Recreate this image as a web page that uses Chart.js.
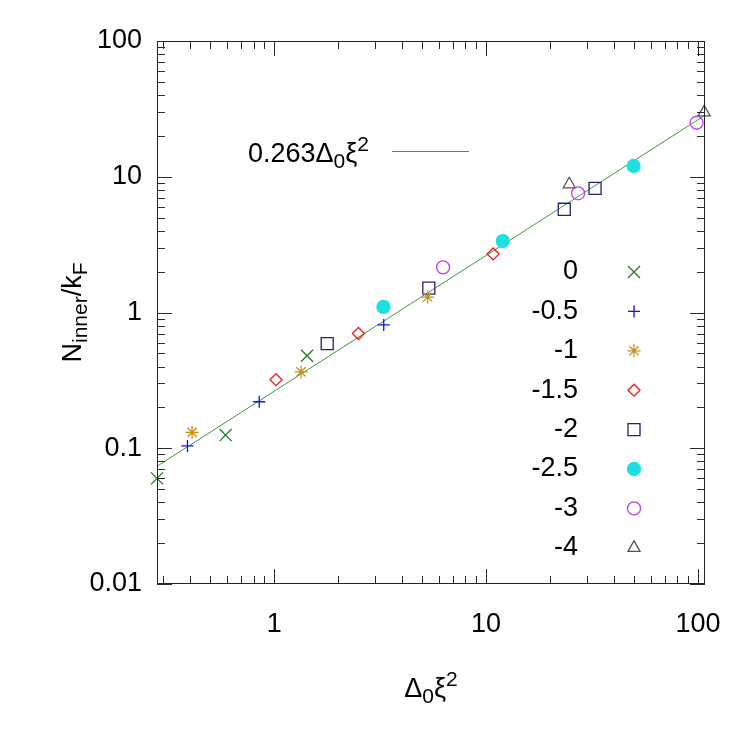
<!DOCTYPE html>
<html>
<head>
<meta charset="utf-8">
<script src="https://cdn.jsdelivr.net/npm/chart.js@4.4.1/dist/chart.umd.min.js"></script>
<style>
  html, body { margin: 0; padding: 0; background: #fff; }
  #wrap { width: 750px; height: 750px; }
</style>
</head>
<body>
<div id="wrap"><canvas id="chart" width="750" height="750"></canvas></div>
<script>
// series names (legend text)
const seriesNames = ["0", "-0.5", "-1", "-1.5", "-2", "-2.5", "-3", "-4"];

// data (x = Delta0 xi^2, y = N_inner / k_F)
const xS0 = [0.28, 0.59, 1.43];
const yS0 = [0.060, 0.125, 0.48];
const xS05 = [0.39, 0.85, 3.29];
const yS05 = [0.104, 0.22, 0.81];
const xS1 = [0.41, 1.34, 5.3];
const yS1 = [0.131, 0.365, 1.30];
const xS15 = [1.02, 2.5, 10.8];
const yS15 = [0.32, 0.70, 2.70];
const xS2 = [1.78, 5.37, 23.4, 32.7];
const yS2 = [0.59, 1.51, 5.76, 8.2];
const xS25 = [3.28, 12.0, 49.7];
const yS25 = [1.10, 3.36, 12.0];
const xS3 = [6.27, 27.2, 98.6];
const yS3 = [2.15, 7.55, 25.0];
const xS4 = [24.7, 107];
const yS4 = [8.8, 29.8];

// fitted line 0.263*Delta0 xi^2, end points
const fitX = [0.28, 108];
const fitY = [0.0736, 28.4];

const xTicks = [1, 10, 100];
const yTicks = [0.01, 0.1, 1, 10, 100];

const seriesX = [xS0, xS05, xS1, xS15, xS2, xS25, xS3, xS4];
const seriesY = [yS0, yS05, yS1, yS15, yS2, yS25, yS3, yS4];

const FONT = "'Liberation Sans', Arial, Helvetica, sans-serif";
const BIG = 27, SMALL = 21;
const styles = [
  { color: "#237a23", shape: "crossRot", r: 8.5, filled: false },
  { color: "#1010f0", shape: "cross", r: 6, filled: false },
  { color: "#c8901e", shape: "star", r: 6.5, filled: false },
  { color: "#f01818", shape: "rectRot", r: 6, filled: false },
  { color: "#22226e", shape: "rect", r: 8.5, filled: false },
  { color: "#1ee0e0", shape: "circle", r: 6.5, filled: true },
  { color: "#b444f0", shape: "circle", r: 6.5, filled: false },
  { color: "#555555", shape: "triangle", r: 7, filled: false },
];
const FIT_COLOR = "#3e963e";

function drawRich(ctx, parts, x, y, align) {
  const fontOf = (p) => (p.sub || p.sup ? SMALL : BIG) + "px " + FONT;
  let total = 0;
  parts.forEach((p) => { ctx.font = fontOf(p); total += ctx.measureText(p.t).width; });
  let cx = align === "center" ? x - total / 2 : x;
  ctx.textAlign = "left";
  ctx.textBaseline = "alphabetic";
  parts.forEach((p) => {
    ctx.font = fontOf(p);
    const dy = p.sub ? 6 : p.sup ? -11 : 0;
    ctx.fillText(p.t, cx, y + dy);
    cx += ctx.measureText(p.t).width;
  });
}

function marker(ctx, st, x, y) {
  ctx.strokeStyle = st.color;
  ctx.fillStyle = st.filled ? st.color : "rgba(0,0,0,0)";
  ctx.lineWidth = 1.3;
  Chart.helpers.drawPoint(ctx, { pointStyle: st.shape, radius: st.r, rotation: 0, borderWidth: 1.3 }, x, y);
}

// frame + inward ticks on all four sides
const frameTicks = {
  id: "frameTicks",
  afterDatasetsDraw(chart) {
    const { ctx, chartArea: a } = chart;
    const xs = chart.scales.x, ys = chart.scales.y;
    ctx.save();
    ctx.strokeStyle = "#2a2a2a";
    ctx.lineWidth = 1;
    ctx.beginPath();
    for (let e = -1; e <= 2; e++) {
      for (let m = 1; m <= 9; m++) {
        const v = m * Math.pow(10, e);
        if (v < xs.min || v > xs.max) continue;
        const px = Math.round(xs.getPixelForValue(v)) + 0.5;
        const len = m === 1 ? 15 : 8;
        ctx.moveTo(px, a.bottom); ctx.lineTo(px, a.bottom - len);
        ctx.moveTo(px, a.top); ctx.lineTo(px, a.top + len);
      }
    }
    for (let e = -2; e <= 2; e++) {
      for (let m = 1; m <= 9; m++) {
        const v = m * Math.pow(10, e);
        if (v < ys.min * 0.999 || v > ys.max * 1.001) continue;
        const py = Math.round(ys.getPixelForValue(v)) + 0.5;
        const len = m === 1 ? 15 : 8;
        ctx.moveTo(a.left, py); ctx.lineTo(a.left + len, py);
        ctx.moveTo(a.right, py); ctx.lineTo(a.right - len, py);
      }
    }
    ctx.stroke();
    ctx.strokeStyle = "#222";
    ctx.strokeRect(a.left + 0.5, a.top + 0.5, a.right - a.left - 1, a.bottom - a.top - 1);
    ctx.restore();
  },
};

// key, axis titles
const keyAndTitles = {
  id: "keyAndTitles",
  afterDraw(chart) {
    const { ctx, chartArea: a } = chart;
    ctx.save();
    seriesNames.forEach((name, i) => {
      const y = a.top + 231 + i * 39.4;
      ctx.fillStyle = "#000";
      ctx.font = BIG + "px " + FONT;
      ctx.textAlign = "right";
      ctx.textBaseline = "middle";
      ctx.fillText(name, a.right - 127, y);
      marker(ctx, styles[i], a.right - 71, y);
    });
    // fit key
    ctx.fillStyle = "#000";
    drawRich(ctx, [{ t: "0.263" }, { t: "\u0394" }, { t: "0", sub: true }, { t: "\u03be" }, { t: "2", sup: true }], a.left + 91, 162, "left");
    ctx.strokeStyle = FIT_COLOR;
    ctx.lineWidth = 1;
    ctx.beginPath();
    ctx.moveTo(392, 151.5); ctx.lineTo(469, 151.5);
    ctx.stroke();
    // x title
    ctx.fillStyle = "#000";
    drawRich(ctx, [{ t: "\u0394" }, { t: "0", sub: true }, { t: "\u03be" }, { t: "2", sup: true }], (a.left + a.right) / 2, 697, "center");
    // y title
    ctx.translate(81, (a.top + a.bottom) / 2);
    ctx.rotate(-Math.PI / 2);
    drawRich(ctx, [{ t: "N" }, { t: "inner", sub: true }, { t: "/k" }, { t: "F", sub: true }], 0, 0, "center");
    ctx.restore();
  },
};

const datasets = seriesX.map((xs, i) => ({
  label: seriesNames[i],
  data: xs.map((x, j) => ({ x: x, y: seriesY[i][j] })),
  showLine: false,
  pointStyle: styles[i].shape,
  pointRadius: styles[i].r,
  pointBorderWidth: 1.3,
  borderColor: styles[i].color,
  backgroundColor: styles[i].filled ? styles[i].color : "rgba(0,0,0,0)",
}));
datasets.push({
  label: "fit",
  data: fitX.map((x, j) => ({ x: x, y: fitY[j] })),
  showLine: true,
  borderColor: FIT_COLOR,
  borderWidth: 1,
  pointRadius: 0,
  fill: false,
});

new Chart(document.getElementById("chart"), {
  type: "scatter",
  data: { datasets: datasets },
  options: {
    responsive: false,
    animation: false,
    events: [],
    clip: false,
    layout: { padding: { left: 0, top: 41, right: 45, bottom: 0 } },
    plugins: { legend: { display: false }, tooltip: { enabled: false } },
    scales: {
      x: {
        type: "logarithmic",
        min: 0.28,
        max: 108,
        grid: { display: false, drawTicks: false },
        border: { display: false },
        afterBuildTicks: (s) => { s.ticks = xTicks.map((v) => ({ value: v })); },
        afterFit: (s) => { s.height = 166; s.paddingLeft = 0; s.paddingRight = 0; },
        ticks: {
          color: "#000",
          padding: 24,
          maxRotation: 0,
          font: { family: FONT, size: BIG },
          callback: (v) => String(v),
        },
      },
      y: {
        type: "logarithmic",
        min: 0.01,
        max: 100,
        grid: { display: false, drawTicks: false },
        border: { display: false },
        afterBuildTicks: (s) => { s.ticks = yTicks.map((v) => ({ value: v })); },
        afterFit: (s) => { s.width = 157; s.paddingTop = 0; s.paddingBottom = 0; },
        ticks: {
          color: "#000",
          padding: 15,
          font: { family: FONT, size: BIG },
          callback: (v) => String(v),
        },
      },
    },
  },
  plugins: [frameTicks, keyAndTitles],
});
</script>
</body>
</html>
